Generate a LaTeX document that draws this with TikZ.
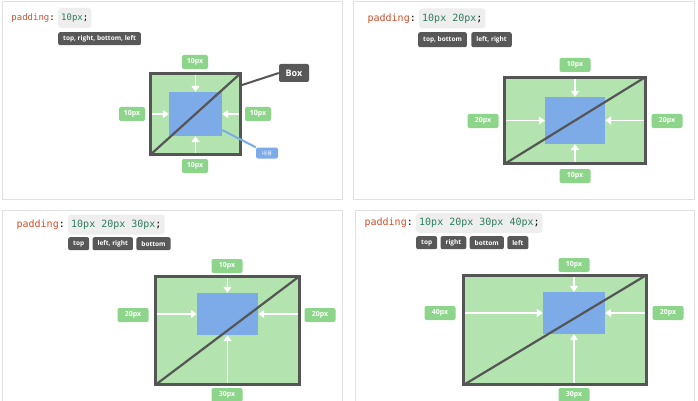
\documentclass[tikz,border=0pt]{standalone}
\usepackage{fontspec}
\setmainfont{Open Sans}
\setmonofont{DejaVu Sans Mono}
\newfontfamily\krfont{Noto Sans CJK KR}
\usetikzlibrary{positioning,arrows.meta}

\definecolor{panelgray}{HTML}{E0E0E0}
\definecolor{codered}{HTML}{D0502E}
\definecolor{codegreen}{HTML}{2E7D5E}
\definecolor{codebg}{HTML}{EEEEEE}
\definecolor{tagdark}{HTML}{585858}
\definecolor{boxline}{HTML}{555555}
\definecolor{padgreen}{HTML}{B3E3AF}
\definecolor{labelgreen}{HTML}{8DD58A}
\definecolor{contentblue}{HTML}{7DABE8}

\tikzset{
  panel/.style={draw=panelgray, line width=0.8pt},
  prop/.style={inner sep=0pt},
  code/.style={fill=codebg, rounded corners=3pt, inner xsep=3pt, inner ysep=0pt, minimum height=20pt},
  tagbox/.style={fill=tagdark, text=white, rounded corners=2pt, inner xsep=5pt, inner ysep=0pt,
    minimum height=13pt, font=\bfseries\fontsize{6.5}{7}\selectfont},
  padbox/.style={draw=boxline, line width=2.5pt, fill=padgreen, inner sep=0pt},
  contentbox/.style={fill=contentblue, inner sep=0pt},
  diag/.style={draw=boxline, line width=2.2pt, shorten <=2pt, shorten >=2pt},
  padarrow/.style={draw=white, line width=1.8pt, shorten <=3pt, -{Triangle[length=6pt,width=8pt]}},
  pxlabel/.style={fill=labelgreen, text=white, rounded corners=2pt, inner sep=0pt,
    minimum width=26pt, minimum height=14pt, font=\bfseries\fontsize{7}{8}\selectfont},
  boxtag/.style={fill=tagdark, text=white, rounded corners=2pt, inner sep=0pt,
    minimum width=30pt, minimum height=18pt, font=\bfseries\fontsize{9}{10}\selectfont},
  kortag/.style={fill=contentblue, text=white, rounded corners=2pt, inner sep=0pt,
    minimum width=22pt, minimum height=11pt, font=\krfont\fontsize{5.5}{6}\selectfont},
  callout/.style={draw=boxline, line width=2pt}
}

\begin{document}
\begin{tikzpicture}[x=1pt,y=-1pt]
  % Frame and the four panels
  \useasboundingbox (0,0) rectangle (698,401);
  \fill[white] (0,0) rectangle (698,401);
  \draw[panel] (2,1) rectangle (342,199);
  \draw[panel] (353,1) rectangle (694,199);
  \draw[panel] (2,210) rectangle (342,420);
  \draw[panel] (355,210) rectangle (694,420);

  % Panel A: padding: 10px;
  \node[code, anchor=west, font=\ttfamily\fontsize{9}{9}\selectfont] (codeA) at (58,18) {{\color{codegreen}10px};};
  \node[prop, left=3pt of codeA, font=\ttfamily\fontsize{9}{9}\selectfont] (propA) {{\color{codered}padding}:};
  \node[tagbox, anchor=north west] (tagA1) at (58,32) {top, right, bottom, left};
  \node[padbox, minimum width=90pt, minimum height=81pt] (boxA) at (195.5,114) {};
  \node[contentbox, minimum width=53pt, minimum height=44pt] (innerA) at (195.5,114) {};
  \draw[diag] (boxA.south west) -- (boxA.north east);
  \draw[padarrow] (innerA.north |- boxA.north) -- (innerA.north);
  \draw[padarrow] (innerA.west -| boxA.west) -- (innerA.west);
  \draw[padarrow] (innerA.east -| boxA.east) -- (innerA.east);
  \draw[padarrow] (innerA.south |- boxA.south) -- (innerA.south);
  \node[pxlabel] (topA) at (195,62) {10px};
  \node[pxlabel] (leftA) at (132,114) {10px};
  \node[pxlabel] (rightA) at (258,114) {10px};
  \node[pxlabel] (bottomA) at (195,166) {10px};
  \node[boxtag] (boxnameA) at (294,73) {Box};
  \node[kortag] (contentA) at (267,153) {내용};
  \draw[callout] (boxA.32) -- (boxnameA.west);
  \draw[callout, draw=contentblue] (innerA.-31) -- (contentA.north west);

  % Panel B: padding: 10px 20px;
  \node[code, anchor=west, font=\ttfamily\fontsize{10}{10}\selectfont] (codeB) at (419,18.5) {{\color{codegreen}10px 20px};};
  \node[prop, left=3pt of codeB, font=\ttfamily\fontsize{10}{10}\selectfont] (propB) {{\color{codered}padding}:};
  \node[tagbox, anchor=north west, minimum height=15pt] (tagB1) at (418,32) {top, bottom};
  \node[tagbox, right=4pt of tagB1, minimum height=15pt] (tagB2) {left, right};
  \node[padbox, minimum width=141pt, minimum height=86pt] (boxB) at (575,120.5) {};
  \node[contentbox, minimum width=60pt, minimum height=47pt] (innerB) at (575,120.5) {};
  \draw[diag] (boxB.south west) -- (boxB.north east);
  \draw[padarrow] (innerB.north |- boxB.north) -- (innerB.north);
  \draw[padarrow] (innerB.west -| boxB.west) -- (innerB.west);
  \draw[padarrow] (innerB.east -| boxB.east) -- (innerB.east);
  \draw[padarrow] (innerB.south |- boxB.south) -- (innerB.south);
  \node[pxlabel, minimum width=31pt] (topB) at (575,65) {10px};
  \node[pxlabel, minimum width=31pt] (leftB) at (483,121) {20px};
  \node[pxlabel, minimum width=31pt] (rightB) at (667,121) {20px};
  \node[pxlabel, minimum width=31pt] (bottomB) at (575,176) {10px};

  % Panel C: padding: 10px 20px 30px;
  \node[code, anchor=west, font=\ttfamily\fontsize{10}{10}\selectfont] (codeC) at (68,224.5) {{\color{codegreen}10px 20px 30px};};
  \node[prop, left=3pt of codeC, font=\ttfamily\fontsize{10}{10}\selectfont] (propC) {{\color{codered}padding}:};
  \node[tagbox, anchor=north west] (tagC1) at (68,237) {top};
  \node[tagbox, right=3pt of tagC1] (tagC2) {left, right};
  \node[tagbox, right=3pt of tagC2] (tagC3) {bottom};
  \node[padbox, minimum width=144pt, minimum height=108pt] (boxC) at (227.5,330.5) {};
  \node[contentbox, minimum width=61pt, minimum height=42pt] (innerC) at (227.5,314) {};
  \draw[diag] (boxC.south west) -- (boxC.north east);
  \draw[padarrow] (innerC.north |- boxC.north) -- (innerC.north);
  \draw[padarrow] (innerC.west -| boxC.west) -- (innerC.west);
  \draw[padarrow] (innerC.east -| boxC.east) -- (innerC.east);
  \draw[padarrow] (innerC.south |- boxC.south) -- (innerC.south);
  \node[pxlabel, minimum width=31pt] (topC) at (227,266) {10px};
  \node[pxlabel, minimum width=31pt] (leftC) at (133,315) {20px};
  \node[pxlabel, minimum width=31pt] (rightC) at (320,315) {20px};
  \node[pxlabel, minimum width=31pt] (bottomC) at (227,395) {30px};

  % Panel D: padding: 10px 20px 30px 40px;
  \node[code, anchor=west, font=\ttfamily\fontsize{10}{10}\selectfont] (codeD) at (416,223) {{\color{codegreen}10px 20px 30px 40px};};
  \node[prop, left=3pt of codeD, font=\ttfamily\fontsize{10}{10}\selectfont] (propD) {{\color{codered}padding}:};
  \node[tagbox, anchor=north west] (tagD1) at (416,236) {top};
  \node[tagbox, right=3pt of tagD1] (tagD2) {right};
  \node[tagbox, right=3pt of tagD2] (tagD3) {bottom};
  \node[tagbox, right=3pt of tagD3] (tagD4) {left};
  \node[padbox, minimum width=183pt, minimum height=109pt] (boxD) at (555,330) {};
  \node[contentbox, minimum width=62pt, minimum height=42pt] (innerD) at (574,313) {};
  \draw[diag] (boxD.south west) -- (boxD.north east);
  \draw[padarrow] (innerD.north |- boxD.north) -- (innerD.north);
  \draw[padarrow] (innerD.west -| boxD.west) -- (innerD.west);
  \draw[padarrow] (innerD.east -| boxD.east) -- (innerD.east);
  \draw[padarrow] (innerD.south |- boxD.south) -- (innerD.south);
  \node[pxlabel, minimum width=31pt] (topD) at (574,265) {10px};
  \node[pxlabel, minimum width=31pt] (leftD) at (440,313) {40px};
  \node[pxlabel, minimum width=31pt] (rightD) at (668,313) {20px};
  \node[pxlabel, minimum width=31pt] (bottomD) at (574,395) {30px};
\end{tikzpicture}
\end{document}
